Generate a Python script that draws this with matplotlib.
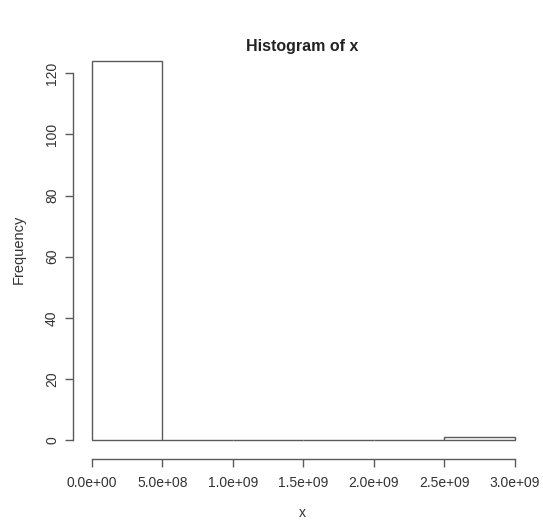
import matplotlib.pyplot as plt
import numpy as np

plt.rcParams['font.family'] = ['Liberation Sans', 'DejaVu Sans']

# histogram bins (edges) and counts
bin_edges = [0, 5e8, 1e9, 1.5e9, 2e9, 2.5e9, 3e9]
counts = [124, 0, 0, 0, 0, 1]
x_ticks = [0, 5e8, 1e9, 1.5e9, 2e9, 2.5e9, 3e9]
x_tick_labels = ['0.0e+00', '5.0e+08', '1.0e+09', '1.5e+09', '2.0e+09', '2.5e+09', '3.0e+09']
y_ticks = [0, 20, 40, 60, 80, 100, 120]

line_col = '#5a5a5a'
text_col = '#333333'

fig = plt.figure(figsize=(5.43, 5.20), dpi=100)
ax = fig.add_axes([0.1344, 0.1173, 0.849, 0.794])

widths = np.diff(bin_edges)
ax.bar(bin_edges[:-1], counts, width=widths, align='edge', fill=False,
       edgecolor=line_col, linewidth=1.0)

ax.set_xlim(-1.348e8, 3.135e9)
ax.set_ylim(-6.2, 128.9)

for s in ['top', 'right']:
    ax.spines[s].set_visible(False)
ax.spines['left'].set_bounds(0, 120)
ax.spines['bottom'].set_bounds(0, 3e9)
for s in ['left', 'bottom']:
    ax.spines[s].set_color(line_col)
    ax.spines[s].set_linewidth(1.0)

ax.set_xticks(x_ticks)
ax.set_xticklabels(x_tick_labels)
ax.set_yticks(y_ticks)
ax.set_yticklabels([str(v) for v in y_ticks], rotation=90, va='center')
ax.tick_params(colors=line_col, labelcolor=text_col, labelsize=10,
               length=5.5, width=1.0)
ax.tick_params(axis='x', pad=6.5)
ax.tick_params(axis='y', pad=4.5)

fig.text(302 / 543, 1 - 47 / 520, 'Histogram of x', ha='center', va='center',
         fontsize=11.5, fontweight='bold', color='#222222')
fig.text(302 / 543, 1 - 513 / 520, 'x', ha='center', va='center',
         fontsize=10, color=text_col)
fig.text(19 / 543, 1 - 249 / 520, 'Frequency', ha='center', va='center',
         rotation=90, fontsize=10.5, color=text_col)

plt.savefig('out.png', dpi=100)
plt.close()
